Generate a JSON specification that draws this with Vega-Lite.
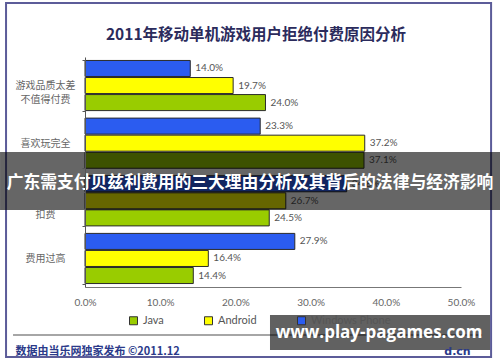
{
  "$schema": "https://vega.github.io/schema/vega-lite/v6.json",
  "width": 376,
  "height": 230,
  "autosize": "none",
  "padding": {"left": 85, "top": 57, "right": 39, "bottom": 75},
  "background": "white",
  "title": {
    "text": "2011年移动单机游戏用户拒绝付费原因分析",
    "font": "Noto Sans CJK SC",
    "fontSize": 15.5,
    "fontWeight": "bold",
    "color": "#2b2b5c",
    "anchor": "middle",
    "frame": "group",
    "dx": -17,
    "offset": -57,
    "baseline": "bottom"
  },
  "config": {"view": {"stroke": null}, "font": "Noto Sans CJK SC"},
  "datasets": {
    "survey": [
      {"reason": "游戏品质太差 不值得付费", "platform": "Windows Phone", "value": 0.140},
      {"reason": "游戏品质太差 不值得付费", "platform": "Android", "value": 0.197},
      {"reason": "游戏品质太差 不值得付费", "platform": "Java", "value": 0.240},
      {"reason": "喜欢玩完全 免费的游戏", "platform": "Windows Phone", "value": 0.233},
      {"reason": "喜欢玩完全 免费的游戏", "platform": "Android", "value": 0.372},
      {"reason": "喜欢玩完全 免费的游戏", "platform": "Java", "value": 0.371},
      {"reason": "担心被恶意 扣费", "platform": "Windows Phone", "value": 0.348},
      {"reason": "担心被恶意 扣费", "platform": "Android", "value": 0.267},
      {"reason": "担心被恶意 扣费", "platform": "Java", "value": 0.245},
      {"reason": "费用过高", "platform": "Windows Phone", "value": 0.279},
      {"reason": "费用过高", "platform": "Android", "value": 0.164},
      {"reason": "费用过高", "platform": "Java", "value": 0.144}
    ]
  },
  "layer": [
    {
      "data": {"values": [{}]},
      "mark": {"type": "rect", "fill": null, "fillOpacity": 0, "stroke": "#5c5c99", "strokeWidth": 2},
      "encoding": {
        "x": {"datum": -0.105, "type": "quantitative", "title": "数据由当乐网独家发布  ©2011.12"},
        "x2": {"datum": 0.540},
        "y": {"datum": "游戏品质太差 不值得付费", "type": "nominal", "bandPosition": -1.146, "title": "d.cn"},
        "y2": {"datum": "费用过高", "bandPosition": 2.465}
      }
    },
    {
      "data": {"values": [{}]},
      "mark": {"type": "rule", "stroke": "#888888", "strokeWidth": 1.5},
      "encoding": {
        "x": {"datum": -0.0957, "type": "quantitative", "title": "数据由当乐网独家发布  ©2011.12"},
        "x2": {"datum": 0.528},
        "y": {"datum": "费用过高", "type": "nominal", "bandPosition": 2.026, "title": "d.cn"}
      }
    },
    {
      "data": {"name": "survey"},
      "mark": {"type": "bar", "stroke": "#2a2a2a", "strokeWidth": 1},
      "encoding": {
        "y": {
          "field": "reason",
          "type": "nominal",
          "title": "d.cn",
          "sort": ["游戏品质太差 不值得付费", "喜欢玩完全 免费的游戏", "担心被恶意 扣费", "费用过高"],
          "scale": {"paddingInner": 0.13, "paddingOuter": 0.06},
          "axis": {
            "titleAngle": 0,
            "titleX": 372,
            "titleY": 294,
            "titleAlign": "center",
            "titleBaseline": "middle",
            "titleFont": "DejaVu Sans",
            "titleFontSize": 11,
            "titleFontWeight": "bold",
            "titleColor": "#2b3a8a",
            "labelExpr": "split(datum.label, ' ')",
            "labelAlign": "center",
            "labelBaseline": "middle",
            "labelPadding": 37,
            "labelFontSize": 10,
            "labelLineHeight": 14,
            "labelColor": "#666666",
            "tickBand": "extent",
            "tickSize": 3,
            "tickColor": "#555555",
            "domainColor": "#555555",
            "grid": false
          }
        },
        "yOffset": {
          "field": "platform",
          "type": "nominal",
          "sort": ["Windows Phone", "Android", "Java"],
          "scale": {"paddingInner": 0.06}
        },
        "x": {
          "field": "value",
          "type": "quantitative",
          "title": "数据由当乐网独家发布  ©2011.12",
          "scale": {"domain": [0, 0.5], "nice": false},
          "axis": {
            "titleX": -70,
            "titleY": 64,
            "titleAlign": "left",
            "titleBaseline": "middle",
            "titleFont": "Noto Sans CJK SC",
            "titleFontSize": 11,
            "titleFontWeight": "bold",
            "titleColor": "#2b3a8a",
            "values": [0, 0.1, 0.2, 0.3, 0.4, 0.5],
            "format": ".1%",
            "ticks": false,
            "grid": false,
            "labelPadding": 10,
            "labelFont": "Lato",
            "labelFontSize": 10,
            "labelColor": "#666666",
            "domainColor": "#777777",
            "labelFlush": false
          }
        },
        "color": {
          "field": "platform",
          "type": "nominal",
          "scale": {"domain": ["Java", "Android", "Windows Phone"], "range": ["#99cc00", "#ffff00", "#2b5cf0"]},
          "legend": {
            "orient": "none",
            "legendX": 43,
            "legendY": 258,
            "direction": "horizontal",
            "title": null,
            "symbolType": "square",
            "symbolSize": 64,
            "symbolStrokeColor": "#333333",
            "symbolStrokeWidth": 1,
            "labelFont": "Lato",
            "labelFontSize": 11,
            "labelColor": "#555555",
            "labelOffset": 4,
            "columnPadding": 38
          }
        }
      }
    },
    {
      "data": {"name": "survey"},
      "mark": {"type": "text", "align": "left", "baseline": "middle", "dx": 5, "fontSize": 10, "font": "Lato", "color": "#555555"},
      "encoding": {
        "y": {"field": "reason", "type": "nominal", "sort": ["游戏品质太差 不值得付费", "喜欢玩完全 免费的游戏", "担心被恶意 扣费", "费用过高"], "title": "d.cn"},
        "yOffset": {"field": "platform", "type": "nominal", "sort": ["Windows Phone", "Android", "Java"]},
        "x": {"field": "value", "type": "quantitative", "title": "数据由当乐网独家发布  ©2011.12"},
        "text": {"field": "value", "type": "quantitative", "format": ".1%"}
      }
    },
    {
      "data": {"values": [{}]},
      "mark": {"type": "rect", "fill": "#000000", "fillOpacity": 0.6},
      "encoding": {
        "x": {"datum": -0.113, "type": "quantitative", "title": "数据由当乐网独家发布  ©2011.12"},
        "x2": {"datum": 0.552},
        "y": {"datum": "喜欢玩完全 免费的游戏", "type": "nominal", "bandPosition": 0.676, "title": "d.cn"},
        "y2": {"datum": "担心被恶意 扣费", "bandPosition": 0.683}
      }
    },
    {
      "data": {"values": [{}]},
      "mark": {"type": "text", "text": "广东需支付贝兹利费用的三大理由分析及其背后的法律与经济影响", "font": "Noto Sans CJK SC", "fontSize": 16.8, "fontWeight": "bold", "color": "#ffffff", "align": "center", "baseline": "middle"},
      "encoding": {
        "x": {"datum": 0.2194, "type": "quantitative", "title": "数据由当乐网独家发布  ©2011.12"},
        "y": {"datum": "担心被恶意 扣费", "type": "nominal", "bandPosition": 0.145, "title": "d.cn"}
      }
    },
    {
      "data": {"values": [{}]},
      "mark": {"type": "rect", "fill": "#000000", "fillOpacity": 0.62},
      "encoding": {
        "x": {"datum": 0.246, "type": "quantitative", "title": "数据由当乐网独家发布  ©2011.12"},
        "x2": {"datum": 0.5386},
        "y": {"datum": "费用过高", "type": "nominal", "bandPosition": 1.628, "title": "d.cn"},
        "y2": {"datum": "费用过高", "bandPosition": 2.325}
      }
    },
    {
      "data": {"values": [{}]},
      "mark": {"type": "text", "text": "www.play-pagames.com", "font": "Open Sans", "fontSize": 17, "fontWeight": "bold", "color": "#ffffff", "align": "center", "baseline": "middle"},
      "encoding": {
        "x": {"datum": 0.391, "type": "quantitative", "title": "数据由当乐网独家发布  ©2011.12"},
        "y": {"datum": "费用过高", "type": "nominal", "bandPosition": 1.986, "title": "d.cn"}
      }
    }
  ]
}
